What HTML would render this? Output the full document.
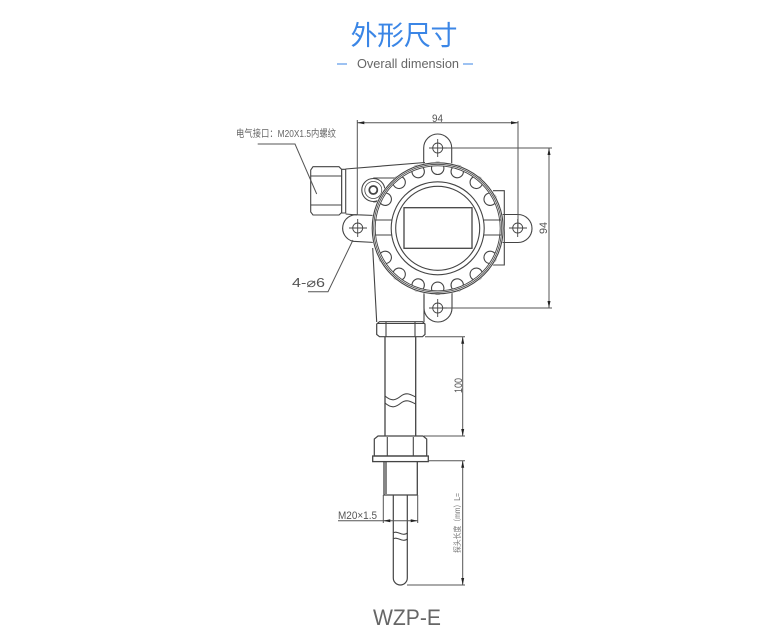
<!DOCTYPE html>
<html><head><meta charset="utf-8"><style>
html,body{margin:0;padding:0;background:#fff;}
svg{display:block;}
text{font-family:"Liberation Sans","Noto Sans CJK SC",sans-serif;}
</style></head><body>
<svg width="783" height="641" viewBox="0 0 783 641" xmlns="http://www.w3.org/2000/svg">
<defs><circle id="s" cx="437.7" cy="168.3" r="6.2" fill="#fff" stroke="#444" stroke-width="1.1"/></defs>
<text x="404" y="45" font-size="27" text-anchor="middle" fill="#3b86e6" textLength="107" style="font-family:'Noto Sans CJK SC',sans-serif;font-weight:400">外形尺寸</text>
<text x="357" y="68" font-size="13" fill="#666" textLength="102" lengthAdjust="spacingAndGlyphs">Overall dimension</text>
<path d="M337 64h10M463 64h10" stroke="#3b86e6" stroke-width="1"/>

<g fill="none" stroke="#444" stroke-width="1.1">
<!-- ears -->
<path d="M423.700 164V148a14 14 0 0 1 28 0V164" fill="#fff"/>
<path d="M424 292V308a14 14 0 0 0 28 0V292" fill="#fff"/>
<path d="M500 214.500H518a14 14 0 0 1 0 28H500" fill="#fff"/>
<path d="M375 215.500L358 214.800a13.500 13.500 0 0 0 -5 26.500L375 242.500" fill="#fff"/>
<!-- body -->
<path d="M345.500 169L425 162.500"/>
<path d="M372.700 248L376.700 322M424 295V322"/>
<path d="M493 190.700H504.300V265H493"/>
<!-- conduit -->
<path d="M313 166.700H339L341.700 169.500V212.500L339 215H313L310.700 212V170Z" fill="#fff"/>
<path d="M311 176H341.700M311 205H341.700"/>
<path d="M341.700 169.300H345.700V213H341.700Z" fill="#fff"/>
<path d="M345.700 214L357 215"/>
<!-- screw boss -->
<path d="M373.300 178H395M373.300 202L379 201.500" />
<circle cx="373.300" cy="190" r="11.500" fill="#fff"/>
<circle cx="373.300" cy="190" r="8.500" stroke-width=".8"/>
<circle cx="373.300" cy="190" r="4" stroke-width="1.800"/>
<!-- housing -->
<circle cx="437.700" cy="228.300" r="65.500" fill="#fff"/>
<use href="#s"/><use href="#s" transform="rotate(19 437.7 228.3)"/><use href="#s" transform="rotate(-19 437.7 228.3)"/>
<use href="#s" transform="rotate(40 437.7 228.3)"/><use href="#s" transform="rotate(-40 437.7 228.3)"/>
<use href="#s" transform="rotate(61 437.7 228.3)"/><use href="#s" transform="rotate(-61 437.7 228.3)"/>
<use href="#s" transform="rotate(180 437.7 228.3)"/><use href="#s" transform="rotate(161 437.7 228.3)"/><use href="#s" transform="rotate(-161 437.7 228.3)"/>
<use href="#s" transform="rotate(140 437.7 228.3)"/><use href="#s" transform="rotate(-140 437.7 228.3)"/>
<use href="#s" transform="rotate(119 437.7 228.3)"/><use href="#s" transform="rotate(-119 437.7 228.3)"/>
<circle cx="437.700" cy="228.300" r="64.500" stroke="#fff" stroke-width="4"/>
<circle cx="437.700" cy="228.300" r="65.500"/>
<circle cx="437.700" cy="228.300" r="64" stroke-width=".8"/>
<circle cx="437.700" cy="228.300" r="62.500" stroke-width=".9"/>
<path d="M375 220H392M375 235H392M484 220H501M484 235H501"/>
<circle cx="437.700" cy="228.300" r="46.500" fill="#fff"/>
<circle cx="437.700" cy="228.300" r="42"/>
<rect x="404" y="207.700" width="68" height="40.600" stroke-width="1.300"/>
<!-- holes -->
<g stroke-width=".9">
<circle cx="437.700" cy="148" r="5"/><path d="M429 148H447M437.700 139V157"/>
<circle cx="437.700" cy="308" r="5"/><path d="M429 308H447M437.700 299V317"/>
<circle cx="517.700" cy="228" r="5"/><path d="M509 228H527M517.700 219V237"/>
<circle cx="357.700" cy="228" r="5"/><path d="M349 228H367M357.700 219V237"/>
</g>
<!-- stem -->
<path d="M379.500 321.700H422.500L425 324V334.500L422.500 336.700H379.500L376.700 334.500V324Z" stroke-width="1.200"/>
<path d="M377 323.500H425M386 322V336.700M415 322V336.700"/>
<path d="M385 336.700V436M415.700 336.700V436" stroke-width="1.300"/>
<path d="M385 396C392 402 396 400 401 396S410 394 415.700 397M385 403C392 409 396 407 401 403S410 401 415.700 404"/>
<path d="M378 436H423L426.700 439V456H374.300V439Z" fill="#fff" stroke-width="1.200"/>
<path d="M387.300 437V456M413.300 437V456"/>
<rect x="372.700" y="456" width="55.600" height="5.600" stroke-width="1.300"/>
<path d="M384 461.600V495H417.300V461.600M386 461.600V494" stroke-width="1.300"/>
<path d="M393.300 495V578a7 7 0 0 0 14 0V495" stroke-width="1.200"/>
<path d="M393 533C398 530 402 537 407.500 533M393 539C398 536 402 543 407.500 539" fill="#fff"/>
</g>

<!-- dimensions -->
<g fill="none" stroke="#555" stroke-width="1">
<path d="M357.300 120V215M518 121V228M357.300 122.700H518"/>
<path d="M447 148H552M447 308H552M549 148V308"/>
<path d="M425 336.700H465M462.700 336.700V436M424 436H465M428 460.700H465M462.700 460.700V585M407 585H465"/>
<path d="M338 520.700H418M383.300 495V523M417.700 495V523"/>
<path d="M257.700 144H295L316.700 194"/>
<path d="M308 291.700H328L353 240"/>
</g>
<g fill="#222">
<path d="M357.300 122.700l7 -1.500v3zM518 122.700l-7 -1.500v3z"/>
<path d="M549 148l-1.500 7h3zM549 308l-1.500 -7h3z"/>
<path d="M462.700 336.700l-1.500 7h3zM462.700 436l-1.500 -7h3zM462.700 460.700l-1.500 7h3zM462.700 585l-1.500 -7h3z"/>
<path d="M383.300 520.700l7 -1.500v3zM417.700 520.700l-7 -1.500v3z"/>
</g>

<g fill="#555">
<text x="236" y="137" font-size="10" fill="#666" textLength="100" lengthAdjust="spacingAndGlyphs">电气接口：M20X1.5内螺纹</text>
<text x="432" y="122" font-size="11" textLength="11" lengthAdjust="spacingAndGlyphs">94</text>
<text x="292" y="287" font-size="12.500" textLength="33" lengthAdjust="spacingAndGlyphs">4-⌀6</text>
<text transform="translate(547 234) rotate(-90)" font-size="11" textLength="12" lengthAdjust="spacingAndGlyphs">94</text>
<text transform="translate(462 393) rotate(-90)" font-size="11" textLength="15" lengthAdjust="spacingAndGlyphs">100</text>
<text x="338" y="519" font-size="11" textLength="39" lengthAdjust="spacingAndGlyphs">M20×1.5</text>
<text transform="translate(460 553) rotate(-90)" font-size="8" fill="#777" textLength="60" lengthAdjust="spacingAndGlyphs">探头长度（mm）L=</text>
<text x="373" y="625" font-size="22" fill="#666" textLength="68" lengthAdjust="spacingAndGlyphs">WZP-E</text>
</g>
</svg>
</body></html>
